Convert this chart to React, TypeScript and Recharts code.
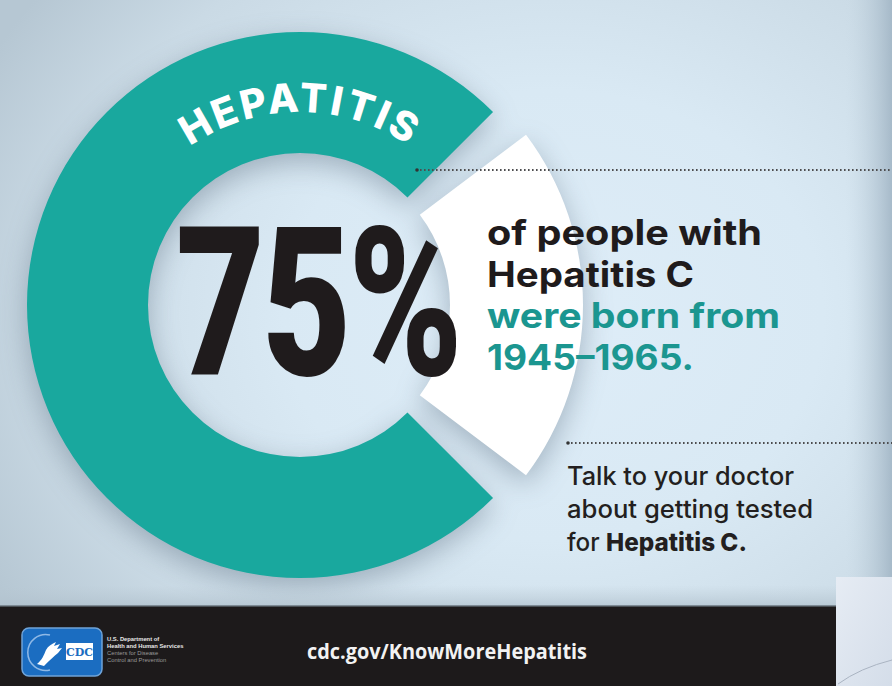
import React from 'react';
import { PieChart, Pie, Cell } from 'recharts';

// ---- data ----
const categories = ['Born 1945–1965', 'Born in other years'];
const shares = [75, 25];
const ringTitle = 'HEPATITIS';
const headline = '75%';
const statementLines = ['of people with', 'Hepatitis C', 'were born from', '1945–1965.'];
const adviceLines = ['Talk to your doctor', 'about getting tested'];
const adviceLast = ['for ', 'Hepatitis C.'];
const footerUrl = 'cdc.gov/KnowMoreHepatitis';
const hhsLines = ['U.S. Department of', 'Health and Human Services', 'Centers for Disease', 'Control and Prevention'];

const ringData = categories.map((name, i) => ({ name, value: shares[i] }));
const total = shares.reduce((a, b) => a + b, 0);
const whiteSpan = (360 * shares[1]) / total;
const GAP = 8;

const TEAL = '#19a89e';
const TEAL_TEXT = '#1b9690';
const INK = '#1f1b1c';

const CX = 300;
const CY = 305;

export default function App() {
  return (
    <div
      style={{
        position: 'absolute',
        left: 0,
        top: 0,
        width: 892,
        height: 686,
        overflow: 'hidden',
        background:
          'radial-gradient(ellipse 72% 78% at 62% 46%, #deedf8 0%, #d9e9f4 42%, #cadae5 78%, #b6c7d3 100%)',
      }}
    >
      <div style={{ position: 'absolute', left: 0, top: 0, filter: 'drop-shadow(0px 9px 14px rgba(60,80,100,0.36))' }}>
        <PieChart width={892} height={686} margin={{ top: 0, right: 0, bottom: 0, left: 0 }}>
          <Pie
            data={[ringData[1]]}
            dataKey="value"
            cx={CX}
            cy={CY}
            innerRadius={150}
            outerRadius={283}
            startAngle={-(whiteSpan / 2 - GAP)}
            endAngle={whiteSpan / 2 - GAP}
            stroke="none"
            isAnimationActive={false}
          >
            <Cell fill="#ffffff" />
          </Pie>
          <Pie
            data={ringData}
            dataKey="value"
            cx={CX}
            cy={CY}
            innerRadius={152}
            outerRadius={273}
            startAngle={whiteSpan / 2}
            endAngle={whiteSpan / 2 + 360}
            stroke="none"
            isAnimationActive={false}
          >
            <Cell fill={TEAL} />
            <Cell fill="none" fillOpacity={0} />
          </Pie>
        </PieChart>
      </div>

      <svg width={892} height={686} style={{ position: 'absolute', left: 0, top: 0 }}>
        <defs>
          <path id="titleArc" d={`M ${CX - 193} ${CY} A 193 193 0 0 1 ${CX + 193} ${CY}`} fill="none" />
          <linearGradient id="edgeBand" x1="0" y1="0" x2="1" y2="0">
            <stop offset="0" stopColor="#c2d3df" stopOpacity="0" />
            <stop offset="1" stopColor="#9fb3c3" stopOpacity="0.85" />
          </linearGradient>
          <linearGradient id="boxGrad" x1="0" y1="0" x2="1" y2="1">
            <stop offset="0" stopColor="#e6ecf4" />
            <stop offset="1" stopColor="#d4dde9" />
          </linearGradient>
          <linearGradient id="bottomShade" x1="0" y1="0" x2="0" y2="1">
            <stop offset="0" stopColor="#b9c8d3" stopOpacity="0" />
            <stop offset="1" stopColor="#aebfcb" stopOpacity="0.7" />
          </linearGradient>
        </defs>

        {/* right edge band */}
        <rect x={846} y={0} width={46} height={686} fill="url(#edgeBand)" />
        <rect x={0} y={585} width={892} height={22} fill="url(#bottomShade)" />

        {/* curved title */}
        <text
          fill="#ffffff"
          fontFamily="Inter, 'Open Sans', sans-serif"
          fontWeight={800}
          fontSize={40}
          letterSpacing={3}
        >
          <textPath href="#titleArc" startOffset="50%" textAnchor="middle">
            {ringTitle}
          </textPath>
        </text>

        {/* big number, condensed by a horizontal scale */}
        <g transform="translate(176,375) scale(0.74,1)">
          <text
            x={0}
            y={0}
            fill={INK}
            fontFamily="Roboto, 'DejaVu Sans', sans-serif"
            fontWeight={900}
            fontSize={208}
            letterSpacing={-4}
          >
            {headline}
          </text>
        </g>

        {/* dotted rules */}
        <line x1={416} y1={170} x2={892} y2={170} stroke="#4d4d4f" strokeWidth={2} strokeDasharray="1.6 2.4" />
        <circle cx={417} cy={170} r={1.8} fill="#333" />
        <line x1={567} y1={443} x2={892} y2={443} stroke="#4d4d4f" strokeWidth={2} strokeDasharray="1.6 2.4" />
        <circle cx={568} cy={443} r={1.8} fill="#333" />

        {/* statement */}
        {statementLines.map((t, i) => {
          const ys = [245, 287, 328, 370];
          const ws = [275, 207, 293, 207];
          return (
            <text
              key={t}
              x={487}
              y={ys[i]}
              fill={i < 2 ? INK : TEAL_TEXT}
              fontFamily="Inter, 'Open Sans', sans-serif"
              fontWeight={700}
              fontSize={35}
              textLength={ws[i]}
              lengthAdjust="spacingAndGlyphs"
            >
              {t}
            </text>
          );
        })}

        {/* advice */}
        {adviceLines.map((t, i) => {
          const ys = [485, 518];
          const ws = [227, 246];
          return (
            <text
              key={t}
              x={567}
              y={ys[i]}
              fill="#231f20"
              fontFamily="Inter, 'Open Sans', sans-serif"
              fontWeight={500}
              fontSize={25}
              textLength={ws[i]}
              lengthAdjust="spacingAndGlyphs"
            >
              {t}
            </text>
          );
        })}
        <text
          x={567}
          y={551}
          fill="#231f20"
          fontFamily="Inter, 'Open Sans', sans-serif"
          fontSize={25}
          textLength={180}
          lengthAdjust="spacingAndGlyphs"
        >
          <tspan fontWeight={500}>{adviceLast[0]}</tspan>
          <tspan fontWeight={800}>{adviceLast[1]}</tspan>
        </text>

        {/* footer */}
        <rect x={0} y={606} width={836} height={80} fill="#1d1a1b" />
        <rect x={0} y={605} width={836} height={1.5} fill="#7d8a94" />
        <rect x={836} y={577} width={56} height={109} fill="url(#boxGrad)" />
        <path d="M 838 684 Q 860 668 892 660" stroke="#aab4c2" strokeWidth={1} fill="none" />

        {/* CDC logo */}
        <rect x={22} y={628} width={80} height={48} rx={7} fill="#1b6dc1" stroke="#6fa3d8" strokeWidth={1.5} />
        <path d="M 50 635 A 18 18 0 1 0 50 670" stroke="#8fb9e6" strokeWidth={1.5} fill="none" />
        <path
          d="M 37 664 C 42 660 44 655 46 650 C 48 646 52 644 56 642 L 54 646 L 60 644 L 57 649 L 62 648 L 58 653 C 54 656 50 660 44 666 Z"
          fill="#ffffff"
        />
        <rect x={66} y={643} width={27} height={17} fill="#ffffff" />
        <text x={79.5} y={656} textAnchor="middle" fill="#1b6dc1" fontFamily="'DejaVu Serif', serif" fontWeight={700} fontSize={11}>
          CDC
        </text>
        {hhsLines.map((t, i) => (
          <text
            key={t}
            x={107}
            y={641 + i * 7}
            fill={i < 2 ? '#e8e8e8' : '#9a9a9a'}
            fontFamily="'Liberation Sans', sans-serif"
            fontWeight={i < 2 ? 700 : 400}
            fontSize={5.8}
          >
            {t}
          </text>
        ))}
        <text
          x={307}
          y={659}
          fill="#f2f2f2"
          fontFamily="'Open Sans', sans-serif"
          fontWeight={700}
          fontSize={22}
          textLength={280}
          lengthAdjust="spacingAndGlyphs"
        >
          {footerUrl}
        </text>
      </svg>
    </div>
  );
}
